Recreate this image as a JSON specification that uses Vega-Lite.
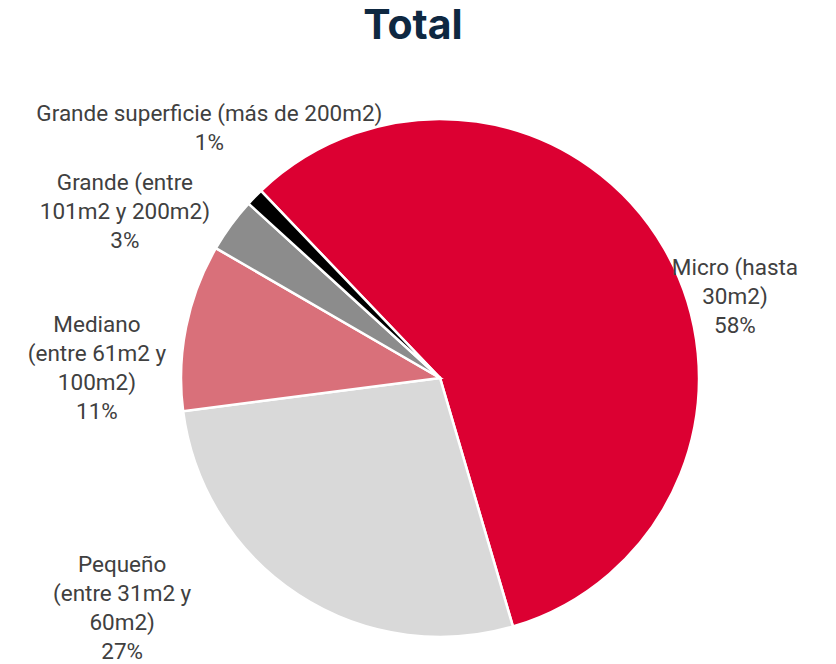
{
  "$schema": "https://vega.github.io/schema/vega-lite/v6.json",
  "width": 792,
  "height": 572,
  "autosize": "none",
  "padding": {"top": 92, "left": 44, "right": 0, "bottom": 0},
  "background": "white",
  "title": {
    "text": "Total",
    "font": "Inter",
    "fontSize": 41,
    "fontWeight": "bold",
    "color": "#0E2841",
    "anchor": "middle",
    "dx": -27,
    "offset": 44
  },
  "data": {
    "values": [
      {"categoria": "Micro", "etiqueta": "Micro (hasta\n30m2)\n58%", "valor": 57.6, "orden": 1},
      {"categoria": "Pequeño", "etiqueta": "Pequeño\n(entre 31m2 y\n60m2)\n27%", "valor": 27.5, "orden": 2},
      {"categoria": "Mediano", "etiqueta": "Mediano\n(entre 61m2 y\n100m2)\n11%", "valor": 10.4, "orden": 3},
      {"categoria": "Grande", "etiqueta": "Grande (entre\n101m2 y 200m2)\n3%", "valor": 3.4, "orden": 4},
      {"categoria": "Grande superficie", "etiqueta": "Grande superficie (más de 200m2)\n1%", "valor": 1.1, "orden": 5}
    ]
  },
  "transform": [
    {"stack": "valor", "groupby": [], "sort": [{"field": "orden", "order": "ascending"}], "as": ["v0", "v1"]}
  ],
  "layer": [
    {
      "mark": {"type": "arc", "outerRadius": 259, "stroke": "white", "strokeWidth": 2.5},
      "encoding": {
        "theta": {"field": "v0", "type": "quantitative", "scale": {"domain": [0, 100], "range": [-0.763, 5.5202]}},
        "theta2": {"field": "v1"},
        "color": {
          "field": "categoria",
          "type": "nominal",
          "legend": null,
          "scale": {
            "domain": ["Micro", "Pequeño", "Mediano", "Grande", "Grande superficie"],
            "range": ["#DC0032", "#D9D9D9", "#D9707A", "#8C8C8C", "#000000"]
          }
        }
      }
    },
    {
      "transform": [{"filter": "datum.categoria === 'Micro'"}],
      "mark": {"type": "text", "radius": 314.8, "thetaOffset": 1.977, "font": "Roboto", "fontSize": 22.5, "lineHeight": 29, "lineBreak": "\n", "color": "#404040", "align": "center", "baseline": "middle"},
      "encoding": {"theta": {"field": "v0", "type": "quantitative"}, "text": {"field": "etiqueta"}}
    },
    {
      "transform": [{"filter": "datum.categoria === 'Pequeño'"}],
      "mark": {"type": "text", "radius": 368.9, "thetaOffset": 1.324, "font": "Roboto", "fontSize": 22.5, "lineHeight": 29, "lineBreak": "\n", "color": "#404040", "align": "center", "baseline": "middle"},
      "encoding": {"theta": {"field": "v0", "type": "quantitative"}, "text": {"field": "etiqueta"}}
    },
    {
      "transform": [{"filter": "datum.categoria === 'Mediano'"}],
      "mark": {"type": "text", "radius": 347.1, "thetaOffset": 0.281, "font": "Roboto", "fontSize": 22.5, "lineHeight": 29, "lineBreak": "\n", "color": "#404040", "align": "center", "baseline": "middle"},
      "encoding": {"theta": {"field": "v0", "type": "quantitative"}, "text": {"field": "etiqueta"}}
    },
    {
      "transform": [{"filter": "datum.categoria === 'Grande'"}],
      "mark": {"type": "text", "radius": 370.5, "thetaOffset": 0.029, "font": "Roboto", "fontSize": 22.5, "lineHeight": 29, "lineBreak": "\n", "color": "#404040", "align": "center", "baseline": "middle"},
      "encoding": {"theta": {"field": "v0", "type": "quantitative"}, "text": {"field": "etiqueta"}}
    },
    {
      "transform": [{"filter": "datum.categoria === 'Grande superficie'"}],
      "mark": {"type": "text", "radius": 350.5, "thetaOffset": 0.114, "font": "Roboto", "fontSize": 22.5, "lineHeight": 29, "lineBreak": "\n", "color": "#404040", "align": "center", "baseline": "middle"},
      "encoding": {"theta": {"field": "v0", "type": "quantitative"}, "text": {"field": "etiqueta"}}
    }
  ]
}
